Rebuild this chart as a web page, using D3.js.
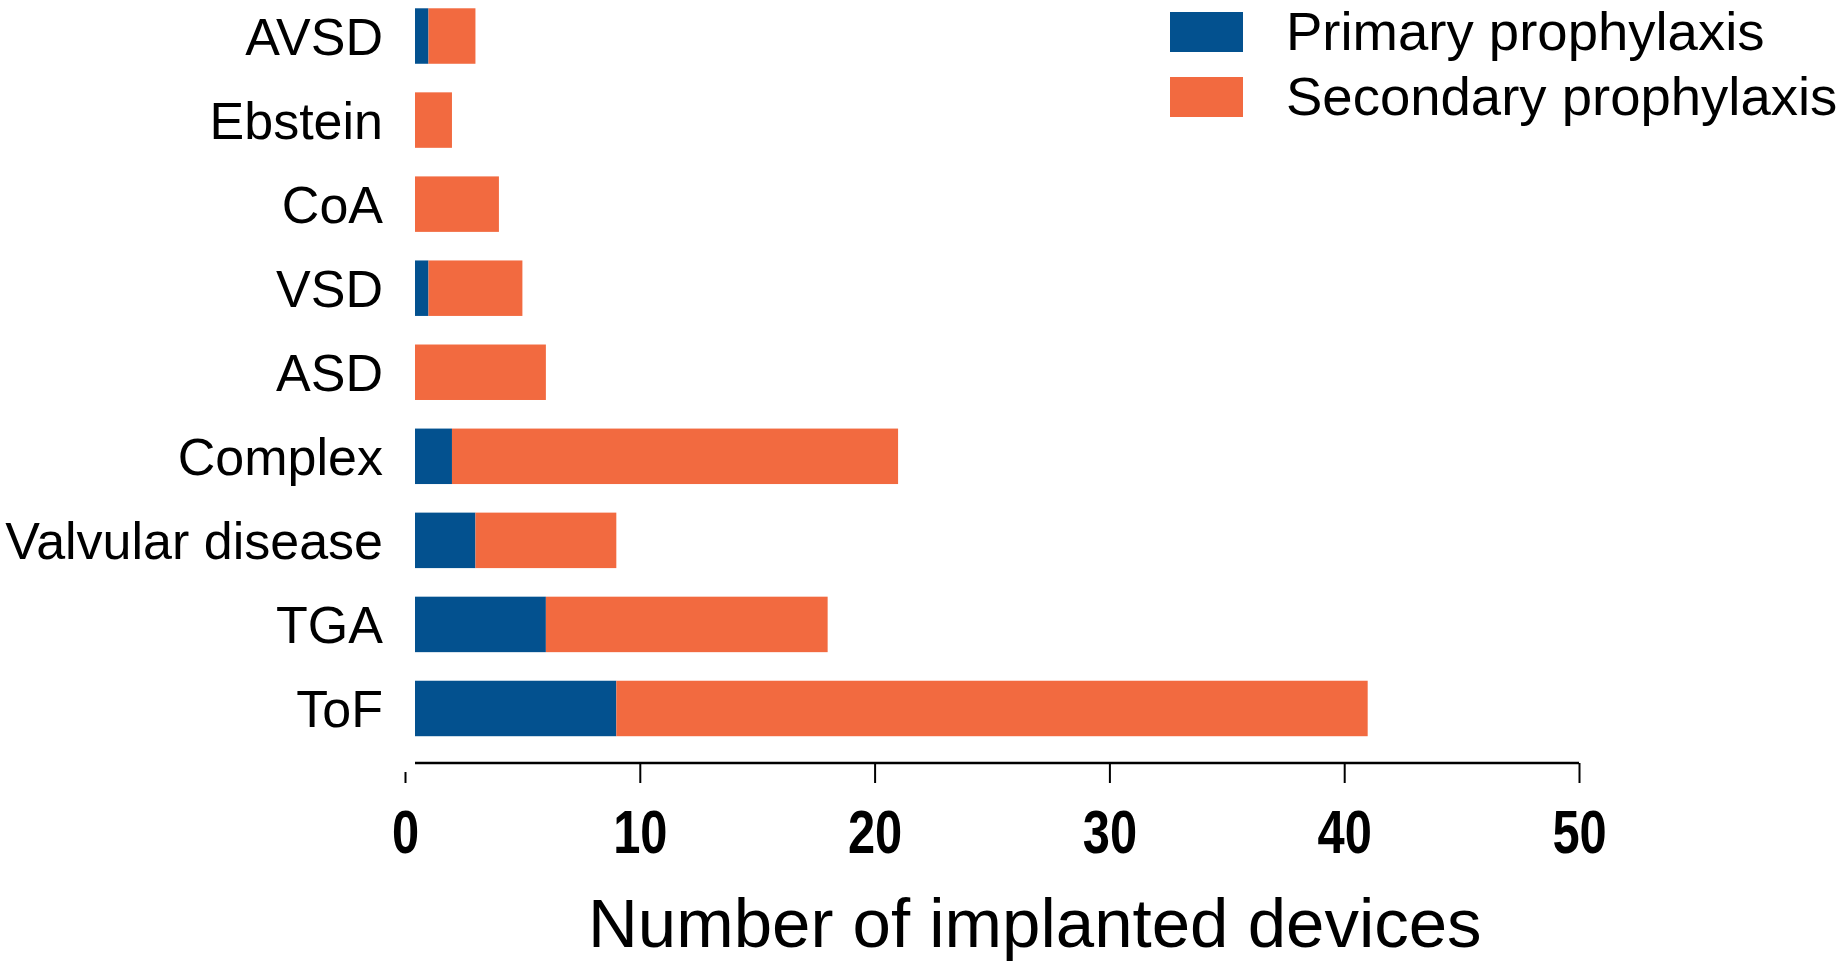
<!DOCTYPE html>
<html>
<head>
<meta charset="utf-8">
<script src="https://cdn.jsdelivr.net/npm/d3@7"></script>
<style>
  body { margin: 0; background: #fff; }
  svg { display: block; }
  text { font-family: "Liberation Sans", Arial, sans-serif; fill: #000; }
</style>
</head>
<body>
<div id="chart"></div>
<script>
// Implanted devices per diagnosis, stacked by prophylaxis type
const categories = ["AVSD", "Ebstein", "CoA", "VSD", "ASD", "Complex", "Valvular disease", "TGA", "ToF"];
const primary    = [1, 0, 0, 1, 0, 2, 3, 6, 9];
const secondary  = [2, 2, 4, 4, 6, 19, 6, 12, 32];
const seriesNames = ["Primary prophylaxis", "Secondary prophylaxis"];
const xTicks = [0, 10, 20, 30, 40, 50];

const colors = ["#03518f", "#f26a40"];
const width = 1848, height = 970;
const axisY = 763;
const gap = 10; // GraphPad style offset between the 0 tick and the bars/axis line

const rows = categories.map((c, i) => ({ cat: c, primary: primary[i], secondary: secondary[i] }));
const stacked = d3.stack().keys(["primary", "secondary"])(rows);

const svg = d3.select("#chart").append("svg")
  .attr("width", width)
  .attr("height", height);

const x = d3.scaleLinear().domain([0, 50]).range([405, 1579]);
const y = d3.scaleBand()
  .domain(categories)
  .range([-6, 750.5])
  .paddingInner(0.34)
  .paddingOuter(0.17);

// bars
svg.append("g").selectAll("g")
  .data(stacked)
  .join("g")
  .attr("fill", (d, i) => colors[i])
  .selectAll("rect")
  .data(d => d.filter(s => s[1] > s[0]))
  .join("rect")
  .attr("x", d => Math.max(x(d[0]), x(0) + gap))
  .attr("y", d => y(d.data.cat))
  .attr("width", d => x(d[1]) - Math.max(x(d[0]), x(0) + gap))
  .attr("height", y.bandwidth());

// category labels
svg.append("g").selectAll("text")
  .data(categories)
  .join("text")
  .attr("x", 383)
  .attr("y", d => y(d) + y.bandwidth() / 2 + 19)
  .attr("text-anchor", "end")
  .attr("font-size", 52)
  .text(d => d);

// x axis
const xAxis = d3.axisBottom(x)
  .tickValues(xTicks)
  .tickSize(20)
  .tickSizeOuter(0)
  .tickPadding(27);

const gx = svg.append("g")
  .attr("transform", `translate(0,${axisY})`)
  .call(xAxis);

gx.select(".domain").remove();
gx.append("line")
  .attr("x1", x(0) + gap)
  .attr("x2", x(50))
  .attr("stroke", "#000")
  .attr("stroke-width", 2.5);
gx.selectAll(".tick line")
  .attr("stroke-width", 2)
  .attr("y1", d => d === 0 ? 9 : 0);
gx.selectAll(".tick text")
  .attr("font-family", '"Liberation Sans", Arial, sans-serif')
  .attr("font-weight", "bold")
  .attr("font-size", 61)
  .attr("transform", "scale(0.8,1)")
  .attr("fill", "#000");

// axis title
svg.append("text")
  .attr("x", 588)
  .attr("y", 947)
  .attr("font-size", 69)
  .text("Number of implanted devices");

// legend
const legend = svg.append("g").selectAll("g")
  .data(seriesNames)
  .join("g")
  .attr("transform", (d, i) => `translate(1170,${12 + i * 65})`);

legend.append("rect")
  .attr("width", 73)
  .attr("height", 40)
  .attr("fill", (d, i) => colors[i]);

legend.append("text")
  .attr("x", 116)
  .attr("y", 38)
  .attr("font-size", 54.5)
  .text(d => d);
</script>
</body>
</html>
